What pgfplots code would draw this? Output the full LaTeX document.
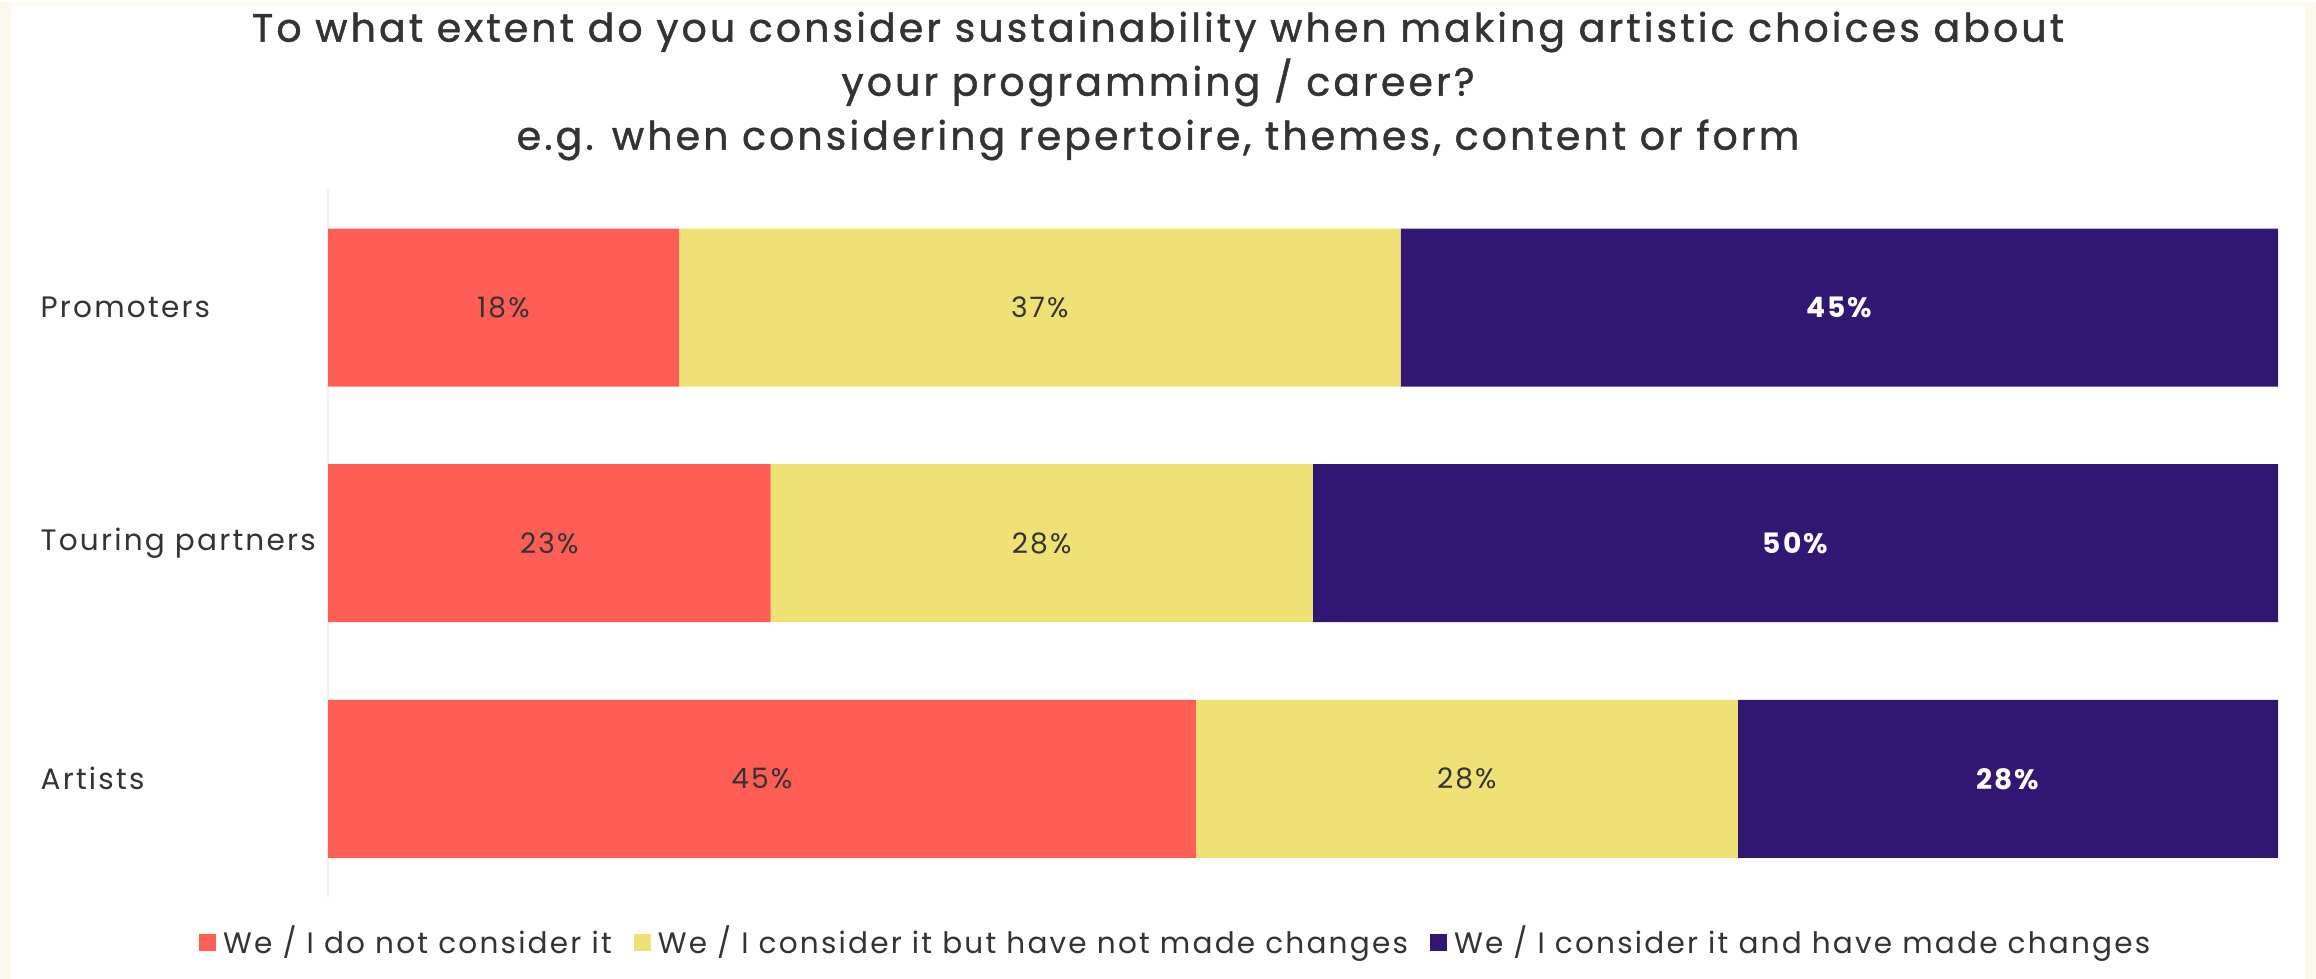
\documentclass[border=0pt]{standalone}
\usepackage{pgfplots}
\usepackage{pgfplotstable}
\pgfplotsset{compat=1.18}
\usepackage{fontspec}
\setmainfont{Poppins}[LetterSpace=7.5]
\newfontfamily\titlefont{Poppins}[LetterSpace=8, FakeBold=1.2]
\definecolor{cred}{HTML}{FF5E57}
\definecolor{cyel}{HTML}{F0E176}
\definecolor{cpur}{HTML}{311673}
\definecolor{cream}{HTML}{FBF8EC}
\definecolor{tgray}{HTML}{333333}

\pgfplotstableread{
y w lab
0 44.5 45
1 22.7 23
2 18 18
}\tred
\pgfplotstableread{
y w lab
0 27.8 28
1 27.8 28
2 37 37
}\tyel
\pgfplotstableread{
y w lab
0 27.7 28
1 49.5 50
2 45 45
}\tpur

\begin{document}
\begin{tikzpicture}
\path[fill=cream] (0,0) rectangle (231.6mm,97.7mm);
\path[fill=white] (1.1mm,0) rectangle (230.5mm,97.3mm);
\node[anchor=base, font=\titlefont\fontsize{11.2}{13}\selectfont, text=tgray] at (115.8mm,93.7mm) {To what extent do you consider sustainability when making artistic choices about};
\node[anchor=base, font=\titlefont\fontsize{11.2}{13}\selectfont, text=tgray] at (115.8mm,88.3mm) {your programming / career?};
\node[anchor=base, font=\titlefont\fontsize{11.2}{13}\selectfont, text=tgray] at (115.8mm,82.9mm) {e.g. when considering repertoire, themes, content or form};
\begin{axis}[
  at={(32.8mm,8.2mm)}, anchor=south west,
  scale only axis, width=195mm, height=70.7mm,
  xbar stacked, bar width=15.8mm,
  xmin=0, xmax=100, ymin=-0.5, ymax=2.5,
  axis x line=none, axis y line*=left,
  y axis line style={draw=black!6, line width=0.6pt},
  ytick={0,1,2}, yticklabels={Artists,Touring partners,Promoters},
  major tick length=0,
  /pgf/number format/assume math mode=true,
  yticklabel style={anchor=west, xshift=-28.8mm, inner sep=0pt, font=\fontsize{8.4}{10}\selectfont, text=tgray},
  point meta=explicit,
  nodes near coords={\pgfmathprintnumber{\pgfplotspointmeta}\%},
  every node near coord/.append style={anchor=center, font=\fontsize{8}{9}\selectfont, text=tgray},
  legend columns=3,
  legend style={at={(0.436,-0.065)}, anchor=center, draw=none, fill=none,
    font=\fontsize{8.4}{10}\selectfont, text=tgray,
    /tikz/every even column/.append style={column sep=1.5mm}},
  legend image code/.code={\fill[#1] (0mm,-0.85mm) rectangle (1.7mm,0.85mm);},
]
\addplot[fill=cred, draw=none] table[x=w, y=y, meta=lab] {\tred};
\addplot[fill=cyel, draw=none] table[x=w, y=y, meta=lab] {\tyel};
\addplot[fill=cpur, draw=none, every node near coord/.append style={text=white, font=\fontsize{8}{9}\selectfont\bfseries}] table[x=w, y=y, meta=lab] {\tpur};
\legend{We / I do not consider it, We / I consider it but have not made changes, We / I consider it and have made changes}
\end{axis}
\end{tikzpicture}
\end{document}
